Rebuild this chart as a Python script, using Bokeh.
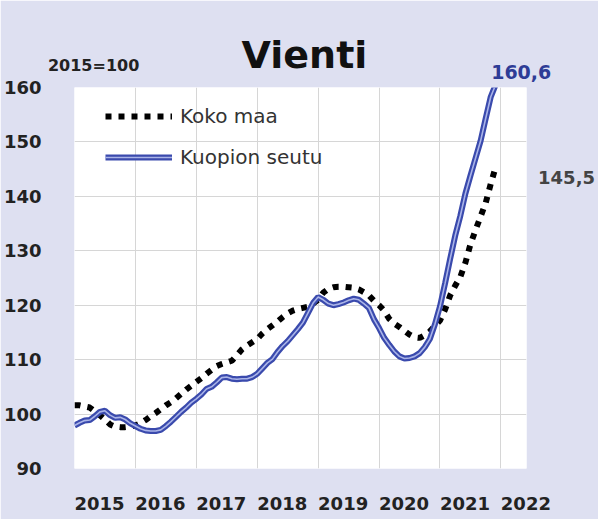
import numpy as np
from bokeh.plotting import figure
from bokeh.models import FixedTicker, Label, Legend, LegendItem, ColumnDataSource
from bokeh.embed import file_html
from bokeh.resources import INLINE

# ---- data (monthly, Jan 2015 .. Dec 2021), index 2015=100 ----
years = [2015, 2016, 2017, 2018, 2019, 2020, 2021, 2022]
y_ticks = [90, 100, 110, 120, 130, 140, 150, 160]

koko_maa = [
    101.6, 101.6, 101.4, 101.2, 100.5, 99.8, 99.0, 98.1, 97.7, 97.6, 97.6, 97.7,
    97.9, 98.3, 98.9, 99.6, 100.2, 100.9, 101.6, 102.2, 102.9, 103.7, 104.5, 105.2,
    105.9, 106.6, 107.4, 108.1, 108.8, 109.2, 109.5, 109.8, 110.8, 111.9, 112.6, 113.2,
    113.8, 114.8, 115.6, 116.3, 117.0, 117.8, 118.5, 119.0, 119.3, 119.5, 119.7, 120.3,
    121.0, 122.3, 123.0, 123.3, 123.4, 123.4, 123.3, 123.2, 122.9, 122.4, 121.8, 120.8,
    120.0, 119.0, 117.5, 116.6, 116.0, 115.3, 114.6, 114.1, 114.0, 114.5, 115.2, 116.2,
    117.2, 119.2, 121.8, 123.6, 125.2, 127.8, 131.2, 133.8, 136.3, 138.8, 142.3, 145.5,
]
kuopion_seutu = [
    97.9, 98.4, 98.8, 98.9, 99.6, 100.4, 100.6, 99.8, 99.3, 99.4, 99.0, 98.3,
    97.8, 97.3, 97.0, 96.9, 96.9, 97.1, 97.8, 98.6, 99.5, 100.4, 101.2, 102.1,
    102.8, 103.6, 104.6, 105.0, 105.8, 106.7, 106.8, 106.5, 106.4, 106.5, 106.5, 106.8,
    107.4, 108.4, 109.4, 110.1, 111.4, 112.5, 113.4, 114.5, 115.6, 116.8, 118.6, 120.4,
    121.5, 121.0, 120.3, 120.0, 120.2, 120.5, 120.9, 121.2, 121.0, 120.3, 119.5, 117.4,
    115.8, 114.0, 112.7, 111.5, 110.6, 110.2, 110.3, 110.6, 111.2, 112.3, 113.8, 116.5,
    119.8, 124.0, 128.5, 132.8, 136.4, 140.5, 143.8, 147.0, 150.2, 154.3, 158.3, 160.6,
]
series_names = ["Koko maa", "Kuopion seutu"]
title_text = "Vienti"
base_text = "2015=100"

months = 2015 + np.arange(len(koko_maa)) / 12.0
src = ColumnDataSource(dict(x=months, koko=koko_maa, kuo=kuopion_seutu))

BG = "#dee0f1"
FONT = "DejaVu Sans"

p = figure(
    output_backend="svg", toolbar_location=None, title=None,
    frame_width=452, frame_height=381,
    min_border_left=72, min_border_right=72, min_border_top=87, min_border_bottom=51,
    x_range=(2015, 2022.42), y_range=(90, 160),
    background_fill_color="white", border_fill_color=BG,
    outline_line_color=None,
)

# x labels sit just right of each year gridline (label start at the gridline)
label_shift = 0.41
label_pos = [round(y + label_shift, 2) for y in years]
p.xaxis.ticker = FixedTicker(ticks=label_pos)
p.xaxis.major_label_overrides = {lp: str(y) for lp, y in zip(label_pos, years)}
p.yaxis.ticker = FixedTicker(ticks=y_ticks)
for ax in (p.xaxis[0], p.yaxis[0]):
    ax.axis_line_color = None
    ax.major_tick_line_color = None
    ax.minor_tick_line_color = None
    ax.major_label_text_font = FONT
    ax.major_label_text_font_style = "bold"
    ax.major_label_text_color = "#222222"
    ax.major_label_text_font_size = "18px"
p.xaxis.major_label_standoff = 22
p.yaxis.major_label_standoff = 27

p.xgrid.ticker = FixedTicker(ticks=years)
p.ygrid.ticker = FixedTicker(ticks=y_ticks)
p.xgrid.grid_line_color = "#d6d6d6"
p.ygrid.grid_line_color = "#d6d6d6"

# series
r_k = p.line("x", "koko", source=src, line_color="black", line_width=6,
             line_dash="6 7", line_cap="butt")
r_b1 = p.line("x", "kuo", source=src, line_color="#3a4aad", line_width=6)
r_b2 = p.line("x", "kuo", source=src, line_color="#aab4e8", line_width=1.6)

legend = Legend(
    items=[LegendItem(label=series_names[0], renderers=[r_k]),
           LegendItem(label=series_names[1], renderers=[r_b1, r_b2])],
    location=(31, 299), orientation="vertical",
    background_fill_alpha=0, border_line_color=None,
    padding=0, margin=0, spacing=17,
    glyph_width=67, glyph_height=20, label_standoff=8,
    label_text_font=FONT, label_text_font_size="20px", label_text_color="#333333",
    label_height=20,
)
p.add_layout(legend, "center")

# annotations outside the frame (placed in side panels so they are not clipped)
p.add_layout(Label(x=2018.775, y=165.9, text=title_text, text_font=FONT,
                   text_font_size="38px", text_font_style="bold",
                   text_align="center", text_baseline="middle", text_color="#111111"),
             "above")
p.add_layout(Label(x=2014.564, y=164.0, text=base_text, text_font=FONT,
                   text_font_size="16px", text_font_style="bold",
                   text_align="left", text_baseline="middle", text_color="#222222"),
             "above")
last_b = kuopion_seutu[-1]
last_k = koko_maa[-1]
p.add_layout(Label(x=2021.84, y=162.8, text=f"{last_b:.1f}".replace(".", ","),
                   text_font=FONT, text_font_size="19px", text_font_style="bold",
                   text_align="left", text_baseline="middle", text_color="#2e3c96"),
             "above")
p.add_layout(Label(x=2022.61, y=143.5, text=f"{last_k:.1f}".replace(".", ","),
                   text_font=FONT, text_font_size="18px", text_font_style="bold",
                   text_align="left", text_baseline="middle", text_color="#444444"),
             "right")

open("out.html", "w").write(file_html(p, INLINE))
